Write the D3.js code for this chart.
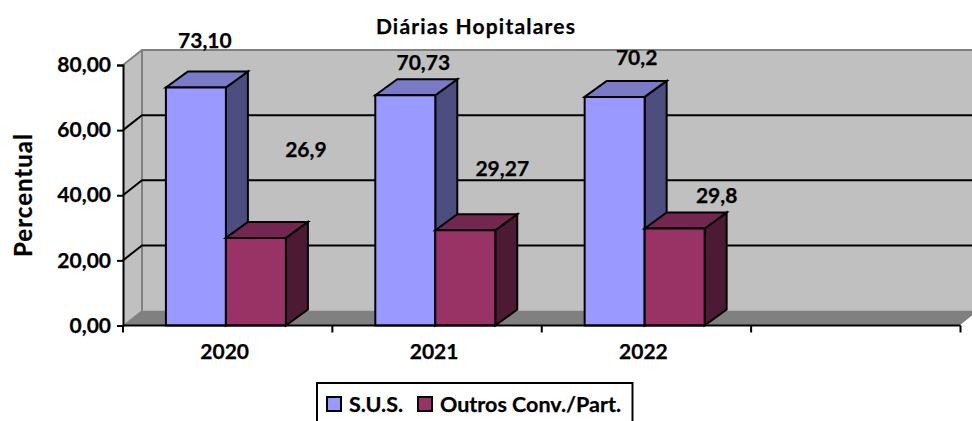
<!DOCTYPE html>
<html>
<head>
<meta charset="utf-8">
<script src="https://cdn.jsdelivr.net/npm/d3@7"></script>
<style>
  html, body { margin: 0; padding: 0; background: #fff; overflow: hidden; }
  text { font-family: Lato, sans-serif; font-weight: 700; fill: #000; stroke: #000; stroke-width: 0.25px; }
</style>
</head>
<body>
<script>
const categories = ["2020", "2021", "2022", ""];
const seriesNames = ["S.U.S.", "Outros Conv./Part."];
const susValues = [73.1, 70.73, 70.2];
const outrosValues = [26.9, 29.27, 29.8];
const susLabels = ["73,10", "70,73", "70,2"];
const outrosLabels = ["26,9", "29,27", "29,8"];
const yTicks = [0, 20, 40, 60, 80];

const width = 972, height = 421;
const left = 123, right = 960.5, top_ = 65, bottom = 325.5;
const wallDx = 19, wallDy = -15;
const barDx = 22, barDy = -16;
const fontSize = 21;

const colors = [
  { front: "#9999ff", top: "#7a7ac6", side: "#4d4d80" },
  { front: "#993366", top: "#732650", side: "#4d1a33" },
];

// manually dragged labels in the original, offset from the top of each bar
const labelNudge = [
  [[-2, -47], [7, -33], [11, -39]],
  [[39, -88], [26, -62], [31, -33]],
];

const comma = d3.formatLocale({ decimal: ",", thousands: ".", grouping: [3], currency: ["", ""] });

const x = d3.scaleBand().domain(categories).range([left, right]);
const y = d3.scaleLinear().domain([0, 80]).range([bottom, top_]);
const xInner = d3.scaleBand().domain([0, 1]).range([0, x.bandwidth()])
  .paddingOuter(0.745).paddingInner(0).align(0.48);

const svg = d3.select("body").append("svg")
  .attr("width", width)
  .attr("height", height)
  .style("display", "block");

function poly(points, fill, stroke, sw) {
  return svg.append("polygon")
    .attr("points", points.map((p) => p.join(",")).join(" "))
    .attr("fill", fill)
    .attr("stroke", stroke || "none")
    .attr("stroke-width", sw || 0)
    .attr("stroke-linejoin", "miter");
}

// walls and floor
poly([[left + wallDx, y(80) + wallDy], [right + wallDx + 20, y(80) + wallDy], [right + wallDx + 20, y(0) + wallDy], [left + wallDx, y(0) + wallDy]], "#c0c0c0");
poly([[left, y(80)], [left + wallDx, y(80) + wallDy], [left + wallDx, y(0) + wallDy], [left, y(0)]], "#c0c0c0");
poly([[left, y(0)], [left + wallDx, y(0) + wallDy], [right + wallDx, y(0) + wallDy], [right, y(0)]], "#808080");

svg.append("path")
  .attr("d", `M${left},${y(80)}L${left + wallDx},${y(80) + wallDy}L${width + 5},${y(80) + wallDy}`)
  .attr("fill", "none").attr("stroke", "#808080").attr("stroke-width", 2);
svg.append("line")
  .attr("x1", left + wallDx).attr("x2", left + wallDx)
  .attr("y1", y(80) + wallDy).attr("y2", y(0) + wallDy)
  .attr("stroke", "#808080").attr("stroke-width", 2);
svg.append("line")
  .attr("x1", left).attr("x2", left + wallDx)
  .attr("y1", y(0)).attr("y2", y(0) + wallDy)
  .attr("stroke", "#808080").attr("stroke-width", 1);
svg.append("line")
  .attr("x1", right).attr("x2", right + wallDx)
  .attr("y1", y(0)).attr("y2", y(0) + wallDy)
  .attr("stroke", "#fff").attr("stroke-width", 1.5);

// gridlines on the back and side wall
yTicks.filter((d) => d > 0 && d < 80).forEach((d) => {
  svg.append("path")
    .attr("d", `M${left},${y(d)}L${left + wallDx},${y(d) + wallDy}L${width + 5},${y(d) + wallDy}`)
    .attr("fill", "none").attr("stroke", "#000").attr("stroke-width", 2);
});

// bars
[susValues, outrosValues].forEach((values, s) => {
  values.forEach((v, i) => {
    const x0 = x(categories[i]) + xInner(s);
    const x1 = x0 + xInner.bandwidth();
    const yt = y(v), yb = y(0);
    const c = colors[s];
    poly([[x1, yb], [x1 + barDx, yb + barDy], [x1 + barDx, yt + barDy], [x1, yt]], c.side, "#000", 2);
    poly([[x0, yt], [x0 + barDx, yt + barDy], [x1 + barDx, yt + barDy], [x1, yt]], c.top, "#000", 2);
    poly([[x0, yb], [x0, yt], [x1, yt], [x1, yb]], c.front, "#000", 2);
  });
});

// axes
const yAxis = svg.append("g")
  .attr("transform", `translate(${left},0)`)
  .call(d3.axisLeft(y).tickValues(yTicks).tickSize(6).tickPadding(6).tickFormat(comma.format(".2f")));
const xAxis = svg.append("g")
  .attr("transform", `translate(0,${bottom})`)
  .call(d3.axisBottom(x).tickSize(0).tickPadding(19));
[yAxis, xAxis].forEach((g) => {
  g.attr("font-family", null).attr("font-size", null);
  g.selectAll("text").style("font-size", fontSize + "px");
  g.selectAll("line").attr("stroke", "#000").attr("stroke-width", 2);
  g.select(".domain").attr("stroke", "#000").attr("stroke-width", 2);
});
xAxis.select(".domain").attr("d", `M${left},0H${right}`);
xAxis.selectAll("text").attr("dx", -3);

// category ticks sit on the band edges
svg.append("g").selectAll("line")
  .data(categories.map((c) => x(c)).concat(right))
  .join("line")
  .attr("x1", (d) => d).attr("x2", (d) => d)
  .attr("y1", bottom).attr("y2", bottom + 7)
  .attr("stroke", "#000").attr("stroke-width", 2);

// data labels
[[susValues, susLabels], [outrosValues, outrosLabels]].forEach(([values, labels], s) => {
  values.forEach((v, i) => {
    const cx = x(categories[i]) + xInner(s) + xInner.bandwidth() / 2;
    svg.append("text")
      .attr("x", cx + barDx / 2 + labelNudge[s][i][0])
      .attr("y", y(v) + labelNudge[s][i][1])
      .attr("dy", "0.35em")
      .attr("text-anchor", "middle")
      .style("font-size", fontSize + "px")
      .text(labels[i]);
  });
});

// titles
svg.append("text")
  .attr("x", 476).attr("y", 27).attr("dy", "0.35em")
  .attr("text-anchor", "middle")
  .style("font-size", "21px")
  .style("letter-spacing", "1.2px")
  .text("Diárias Hopitalares");
svg.append("text")
  .attr("transform", "translate(24,195) rotate(-90)")
  .attr("dy", "0.35em")
  .attr("text-anchor", "middle")
  .style("font-size", "24px")
  .style("letter-spacing", "1px")
  .text("Percentual");

// legend
svg.append("rect")
  .attr("x", 317).attr("y", 383).attr("width", 315.5).attr("height", 60)
  .attr("fill", "#fff").attr("stroke", "#000").attr("stroke-width", 2);
const legendX = [327, 418];
seriesNames.forEach((name, s) => {
  svg.append("rect")
    .attr("x", legendX[s]).attr("y", 397).attr("width", 14).attr("height", 14)
    .attr("fill", colors[s].front).attr("stroke", "#000").attr("stroke-width", 2);
  svg.append("text")
    .attr("x", legendX[s] + 22).attr("y", 404).attr("dy", "0.35em")
    .style("font-size", "21.5px")
    .text(name);
});
</script>
</body>
</html>
